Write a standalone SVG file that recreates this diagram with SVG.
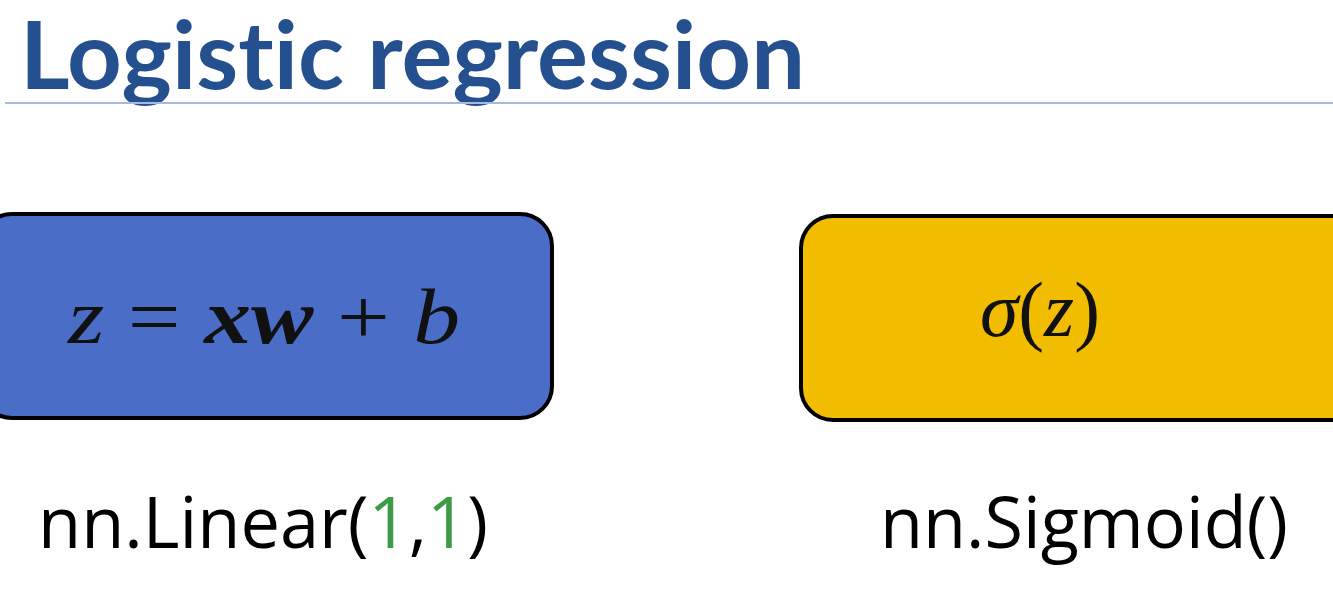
<svg xmlns="http://www.w3.org/2000/svg" width="1333" height="602" viewBox="0 0 1333 602">
<style>
.title{font-family:"Lato","Open Sans",sans-serif;font-weight:bold;font-size:94px;fill:#25508f;font-variant-ligatures:none;font-feature-settings:"liga" 0,"dlig" 0,"clig" 0}
.box{stroke:#000;stroke-width:4}
.math{font-family:"Liberation Serif","DejaVu Serif",serif;font-size:78px;fill:#111}
.code{font-family:"Open Sans","Liberation Sans",sans-serif;font-size:72px;fill:#000}
.num{fill:#3d9a45}
</style>
<rect x="0" y="0" width="1333" height="602" fill="#fefefe"/>
<g id="title">
<text class="title" x="20" y="89" textLength="785" lengthAdjust="spacingAndGlyphs">Logistic regression</text>
<line x1="5" y1="103" x2="1333" y2="103" stroke="#a8badb" stroke-width="2"/>
</g>
<g id="linear">
<rect class="box" x="-20" y="214" width="572" height="204" rx="32" fill="#4a6dc7"/>
<text class="math" x="68" y="343" textLength="392" lengthAdjust="spacingAndGlyphs"><tspan font-style="italic">z</tspan> = <tspan font-weight="bold" font-style="italic">xw</tspan> + <tspan font-style="italic">b</tspan></text>
<text class="code" x="38" y="548" textLength="450" lengthAdjust="spacingAndGlyphs">nn.Linear(<tspan class="num">1</tspan>,<tspan class="num">1</tspan>)</text>
</g>
<g id="sigmoid">
<rect class="box" x="801" y="216" width="572" height="204" rx="32" fill="#f2bc00"/>
<text class="math" x="980" y="336" textLength="120" lengthAdjust="spacingAndGlyphs"><tspan font-style="italic">σ</tspan>(<tspan font-style="italic">z</tspan>)</text>
<text class="code" x="880" y="548" textLength="408" lengthAdjust="spacingAndGlyphs">nn.Sigmoid()</text>
</g>
<g id="connectors"></g>
</svg>
